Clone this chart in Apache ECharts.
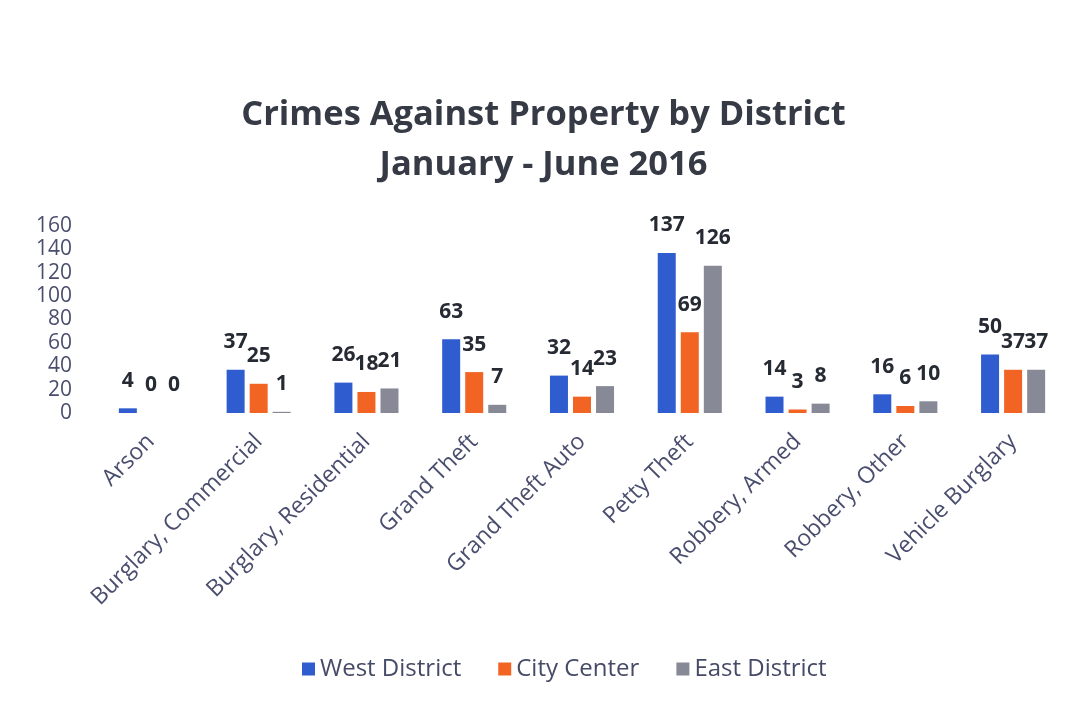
<!DOCTYPE html>
<html>
<head>
<meta charset="utf-8">
<script src="https://cdn.jsdelivr.net/npm/echarts@6/dist/echarts.min.js"></script>
<style>
  html, body { margin: 0; padding: 0; background: #fff; }
  #chart { width: 1087px; height: 712px; }
</style>
</head>
<body>
<div id="chart"></div>
<script>
// data
const categories = ['Arson', 'Burglary, Commercial', 'Burglary, Residential', 'Grand Theft',
  'Grand Theft Auto', 'Petty Theft', 'Robbery, Armed', 'Robbery, Other', 'Vehicle Burglary']
const westDistrict = [4, 37, 26, 63, 32, 137, 14, 16, 50]
const cityCenter = [0, 25, 18, 35, 14, 69, 3, 6, 37]
const eastDistrict = [0, 1, 21, 7, 23, 126, 8, 10, 37]
const yTicks = [0, 20, 40, 60, 80, 100, 120, 140, 160]

const labelStyle = {
  show: true,
  position: 'top',
  distance: 17,
  fontFamily: 'Open Sans',
  fontWeight: 'bold',
  fontSize: 21,
  color: '#262a33'
}

const myChart = echarts.init(document.getElementById('chart'))
myChart.setOption({
  animation: false,
  title: {
    text: 'Crimes Against Property by District\nJanuary - June 2016',
    left: 'center',
    top: 85,
    textStyle: {
      fontFamily: 'Open Sans',
      fontWeight: 'bold',
      fontSize: 34.5,
      lineHeight: 50,
      color: '#363a45'
    }
  },
  legend: {
    bottom: 26,
    left: 297,
    itemWidth: 13,
    itemHeight: 13,
    itemGap: 37,
    icon: 'rect',
    textStyle: { fontFamily: 'Open Sans', fontSize: 24, color: '#454a66' },
    data: ['West District', 'City Center', 'East District']
  },
  grid: { left: 97, right: 20, top: 226, bottom: 299, containLabel: false },
  xAxis: {
    type: 'category',
    data: categories,
    axisLine: { show: false },
    axisTick: { show: false },
    axisLabel: {
      rotate: 45,
      interval: 0,
      margin: 25,
      fontFamily: 'Open Sans',
      fontSize: 23,
      color: '#4a4e6e'
    }
  },
  yAxis: {
    type: 'value',
    min: yTicks[0],
    max: yTicks[yTicks.length - 1],
    interval: 20,
    splitLine: { show: false },
    axisLine: { show: false },
    axisTick: { show: false },
    axisLabel: {
      margin: 25,
      fontFamily: 'Open Sans',
      fontSize: 21,
      color: '#4a4e6e'
    }
  },
  series: [
    { name: 'West District', type: 'bar', data: westDistrict, barWidth: 18, barGap: '28%',
      itemStyle: { color: '#2f5ccf' }, label: labelStyle },
    { name: 'City Center', type: 'bar', data: cityCenter, barWidth: 18, barGap: '28%',
      itemStyle: { color: '#f26423' }, label: labelStyle },
    { name: 'East District', type: 'bar', data: eastDistrict, barWidth: 18, barGap: '28%',
      itemStyle: { color: '#878a96' }, label: labelStyle }
  ]
})
</script>
</body>
</html>
